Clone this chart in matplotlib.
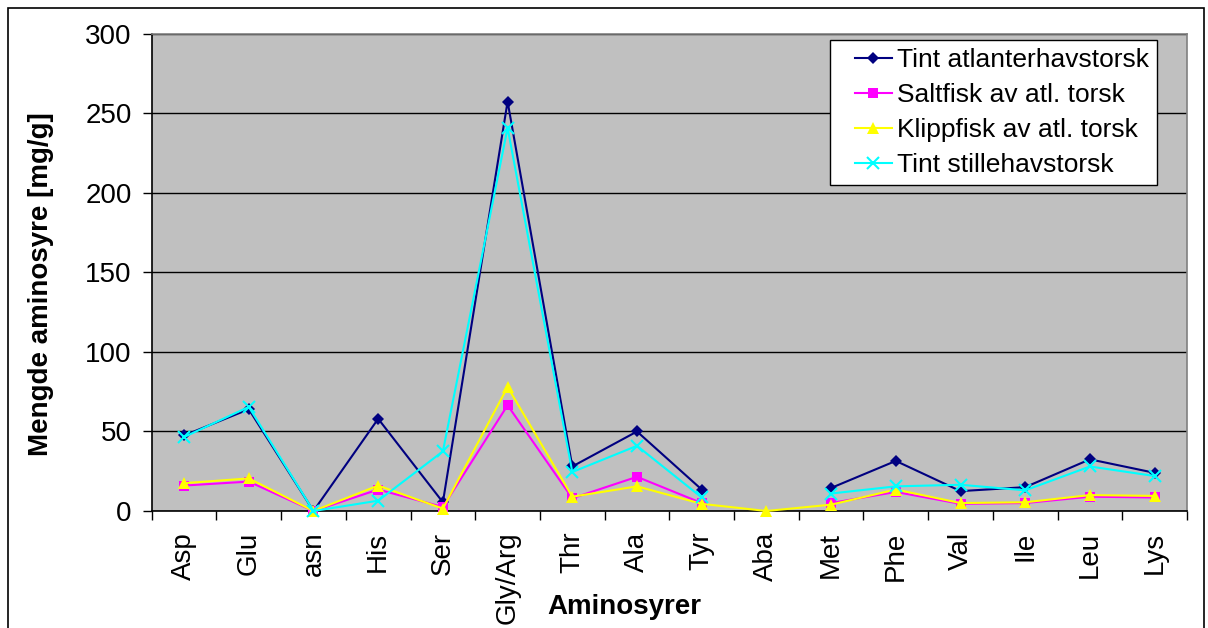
import numpy as np
import matplotlib.pyplot as plt
from matplotlib.patches import Rectangle
from matplotlib.ticker import FixedLocator, NullFormatter
from matplotlib.legend_handler import HandlerLine2D

plt.rcParams['font.family'] = ['Liberation Sans', 'DejaVu Sans']

aminosyrer = ['Asp', 'Glu', 'asn', 'His', 'Ser', 'Gly/Arg', 'Thr', 'Ala',
              'Tyr', 'Aba', 'Met', 'Phe', 'Val', 'Ile', 'Leu', 'Lys']

nan = np.nan
tint_atlanter = [47.5, 64, 0, 58, 5.5, 257.5, 28, 50, 13.5, nan, 14.5, 31.5, 12.5, 15, 32.5, 24]
saltfisk = [16, 18.5, 0, 13.5, 2.5, 66.5, 8, 21.5, 5, nan, 5, 12, 4.5, 5, 9, 8.5]
klippfisk = [17.5, 20.5, 0, 16, 1.5, 78, 9, 15.5, 4.5, 0, 4, 13.5, 5, 5.5, 10, 9.5]
tint_stille = [46.5, 65.5, 0, 6.5, 37.5, 241, 24.5, 41, 8.5, nan, 11, 15.5, 16.5, 13, 28, 22]

serier = [
    ('Tint atlanterhavstorsk', tint_atlanter, '#000080', 'D', 6.5),
    ('Saltfisk av atl. torsk', saltfisk, '#FF00FF', 's', 6.5),
    ('Klippfisk av atl. torsk', klippfisk, '#FFFF00', '^', 8.5),
    ('Tint stillehavstorsk', tint_stille, '#00FFFF', 'x', 8),
]

fig = plt.figure(figsize=(12.08, 6.28), dpi=100)
ax = fig.add_axes([0.1256, 0.1863, 0.8570, 0.7596])
ax.set_facecolor('#C0C0C0')

x = np.arange(len(aminosyrer))
linjer = []
for navn, verdier, farge, mk, ms in serier:
    ln, = ax.plot(x, verdier, color=farge, marker=mk, markersize=ms, linewidth=1.5,
                  markeredgewidth=1.5 if mk == 'x' else 0, label=navn,
                  clip_on=False, zorder=3)
    linjer.append(ln)

ax.set_xlim(-0.5, len(aminosyrer) - 0.5)
ax.set_ylim(0, 300)
ax.set_yticks(np.arange(0, 301, 50))
ax.yaxis.grid(True, color='black', linewidth=1)
ax.set_axisbelow(True)

ax.set_xticks(x)
ax.set_xticklabels(aminosyrer, rotation=90, fontsize=20)
ax.xaxis.set_minor_locator(FixedLocator(np.arange(-0.5, len(aminosyrer), 1.0)))
ax.xaxis.set_minor_formatter(NullFormatter())
ax.tick_params(axis='x', which='major', length=0, pad=15)
ax.tick_params(axis='x', which='minor', length=6.5, width=1, color='black')
ax.tick_params(axis='y', length=6.5, width=1, pad=8, labelsize=20)

for side in ['left', 'bottom']:
    ax.spines[side].set_color('black')
    ax.spines[side].set_linewidth(1.2)
for side in ['top', 'right']:
    ax.spines[side].set_color('#808080')
    ax.spines[side].set_linewidth(1.2)

# legend placed like the Excel one: blank space before short handles
hmap = {ln: HandlerLine2D(xpad=0.65) for ln in linjer}
leg = ax.legend(handles=linjer, handler_map=hmap, loc='upper left',
                bbox_to_anchor=(0.655, 0.987), fontsize=19,
                frameon=True, fancybox=False, shadow=False, borderpad=0.3,
                labelspacing=0.42, handlelength=2.05, handletextpad=0.2,
                borderaxespad=0)
leg.get_frame().set_edgecolor('black')
leg.get_frame().set_linewidth(1)
leg.get_frame().set_facecolor('white')
leg.get_frame().set_alpha(1)
leg.set_zorder(5)

fig.text(624 / 1208, 1 - 607 / 628, 'Aminosyrer', ha='center', va='center',
         fontsize=20, fontweight='bold')
fig.text(41 / 1208, 1 - 284 / 628, 'Mengde aminosyre [mg/g]', ha='center', va='center',
         rotation=90, fontsize=20, fontweight='bold')

fig.patches.append(Rectangle((8 / 1208, -0.05), 1196 / 1208, 1.05 - 8 / 628,
                             transform=fig.transFigure, fill=False,
                             edgecolor='black', linewidth=1.2))

fig.savefig('out.png', dpi=100)
